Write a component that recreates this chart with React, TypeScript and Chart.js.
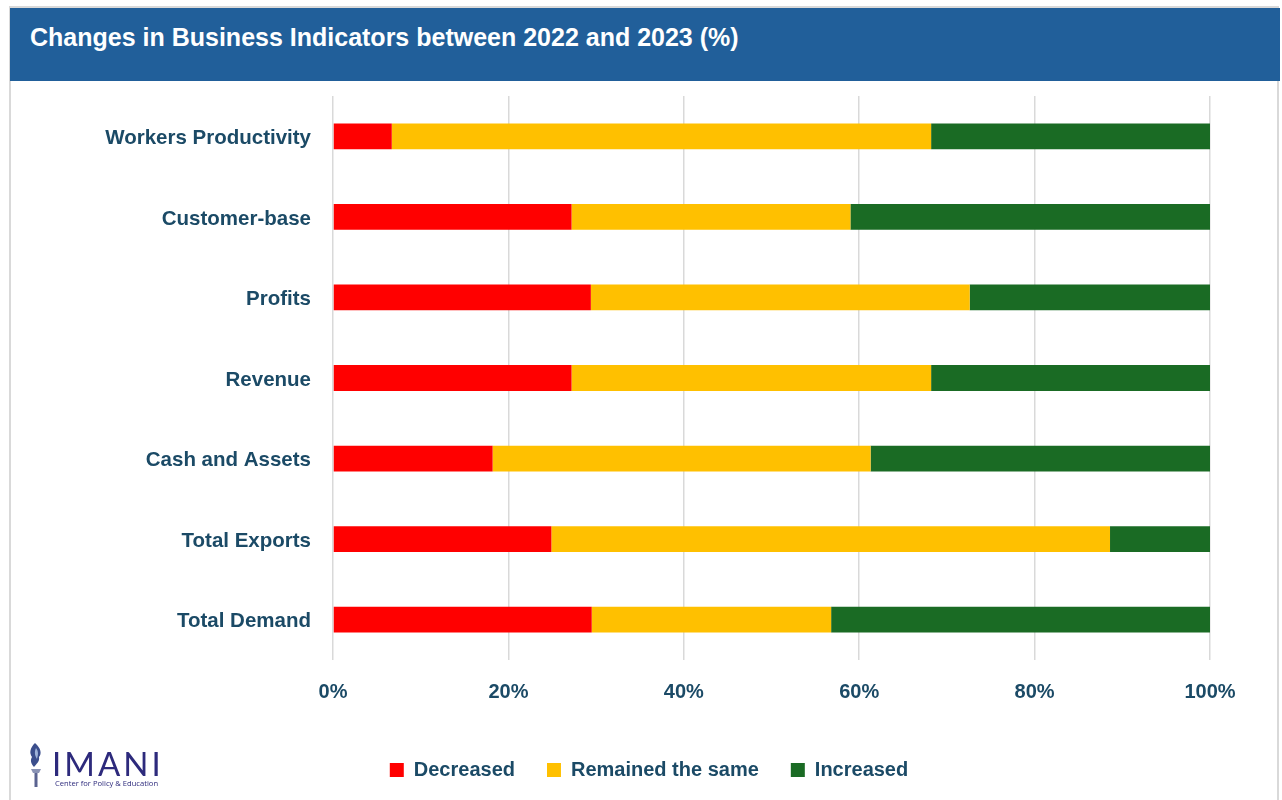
import React, { useEffect, useRef } from "react";
import { Chart, registerables } from "chart.js";

Chart.register(...registerables);

const categories = [
  "Workers Productivity",
  "Customer-base",
  "Profits",
  "Revenue",
  "Cash and Assets",
  "Total Exports",
  "Total Demand",
];
const decreased = [6.7, 27.2, 29.4, 27.2, 18.2, 24.9, 29.5];
const remainedSame = [61.5, 31.8, 43.2, 41.0, 43.1, 63.7, 27.3];
const increased = [31.8, 41.0, 27.4, 31.8, 38.7, 11.4, 43.2];
const seriesNames = ["Decreased", "Remained the same", "Increased"];
const seriesColors = ["#ff0000", "#ffc000", "#1a6b24"];
const xTicks = [0, 20, 40, 60, 80, 100];

const TITLE = "Changes in Business Indicators between 2022 and 2023 (%)";
const FONT = "'Liberation Sans', Arial, sans-serif";
const LABEL_COLOR = "#1b4a66";

export default function App() {
  const canvasRef = useRef<HTMLCanvasElement | null>(null);

  useEffect(() => {
    if (!canvasRef.current) return;
    const values = [decreased, remainedSame, increased];
    const chart = new Chart(canvasRef.current, {
      type: "bar",
      data: {
        labels: categories,
        datasets: seriesNames.map((name, i) => ({
          label: name,
          data: values[i],
          backgroundColor: seriesColors[i],
          borderWidth: 0,
          categoryPercentage: 1,
          barPercentage: 0.32,
        })),
      },
      options: {
        indexAxis: "y",
        animation: false,
        responsive: true,
        maintainAspectRatio: false,
        layout: { padding: { top: 96, left: 88, right: 72, bottom: 10 } },
        plugins: {
          title: { display: false },
          tooltip: { enabled: false },
          legend: {
            position: "bottom",
            labels: {
              boxWidth: 14,
              boxHeight: 14,
              padding: 32,
              color: LABEL_COLOR,
              font: { family: FONT, size: 20, weight: "bold" },
            },
          },
        },
        scales: {
          x: {
            stacked: true,
            min: 0,
            max: 100,
            afterBuildTicks: (scale: any) => {
              scale.ticks = xTicks.map((v) => ({ value: v }));
            },
            afterFit: (scale: any) => {
              scale.height = 68;
            },
            grid: { color: "#d9d9d9", lineWidth: 1.5, drawTicks: false },
            border: { display: false },
            ticks: {
              padding: 20,
              color: LABEL_COLOR,
              font: { family: FONT, size: 20, weight: "bold" },
              callback: (v: any) => v + "%",
            },
          },
          y: {
            stacked: true,
            afterFit: (scale: any) => {
              scale.width = 245;
            },
            grid: { display: false, drawTicks: false },
            border: { display: false },
            ticks: {
              padding: 22,
              labelOffset: 2,
              color: LABEL_COLOR,
              font: { family: FONT, size: 20.5, weight: "bold" },
            },
          },
        },
      },
    });
    return () => chart.destroy();
  }, []);

  return (
    <div
      style={{
        position: "absolute",
        left: 0,
        top: 0,
        width: 1282,
        height: 800,
        overflow: "hidden",
        background: "#ffffff",
        fontFamily: FONT,
      }}
    >
      <div
        style={{
          position: "absolute",
          left: 9,
          top: 6,
          width: 1270,
          height: 820,
          border: "2px solid #d9d9d9",
          boxSizing: "border-box",
        }}
      />
      <div style={{ position: "absolute", left: 0, top: 0, width: 1282, height: 800 }}>
        <canvas ref={canvasRef} />
      </div>
      <div
        style={{
          position: "absolute",
          left: 10,
          top: 8,
          width: 1270,
          height: 73,
          background: "#215f9a",
        }}
      >
        <div
          style={{
            position: "absolute",
            left: 20,
            top: 14,
            color: "#ffffff",
            fontFamily: FONT,
            fontWeight: "bold",
            fontSize: 25,
            lineHeight: "30px",
            whiteSpace: "nowrap",
          }}
        >
          {TITLE}
        </div>
      </div>
      <div style={{ position: "absolute", left: 26, top: 742, width: 140, height: 50 }}>
        <svg width="20" height="46" viewBox="0 0 20 46" style={{ position: "absolute", left: 0, top: 0 }}>
          <path d="M9 1 C4 6 3 11 6 15 C4 18 5 22 8 25 C10 22 14 20 13 15 C16 12 15 6 9 1 Z" fill="#3b4e8c" />
          <path d="M10 6 C8 10 9 14 11 17 C12 13 13 10 10 6 Z" fill="#9fb3d9" />
          <path d="M5 27 L15 27 L13 31 L7 31 Z" fill="#8a93b5" />
          <rect x="8.5" y="31" width="3" height="14" fill="#5a6390" />
        </svg>
        <div
          style={{
            position: "absolute",
            left: 26,
            top: 5,
            color: "#2d2a7c",
            fontFamily: "Lato, 'Open Sans', sans-serif",
            fontWeight: 400,
            fontSize: 33,
            lineHeight: "33px",
            letterSpacing: 3,
            whiteSpace: "nowrap",
          }}
        >
          IMANI
        </div>
        <div
          style={{
            position: "absolute",
            left: 29,
            top: 36,
            color: "#2d2a7c",
            fontFamily: "'Open Sans', sans-serif",
            fontSize: 7.6,
            lineHeight: "10px",
            whiteSpace: "nowrap",
          }}
        >
          Center for Policy &amp; Education
        </div>
      </div>
    </div>
  );
}
